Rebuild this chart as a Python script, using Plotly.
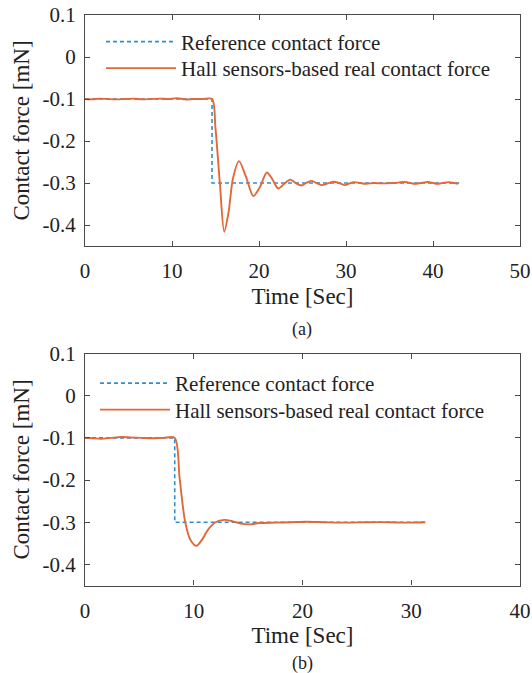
import plotly.graph_objects as go

# ---------------- data ----------------
# (a) reference contact force
ref_a_t = [0, 14.6, 14.6, 43.0]
ref_a_f = [-0.1, -0.1, -0.3, -0.3]
# (a) Hall sensors-based real contact force
hall_a_t = [0, 0.8, 1.7, 2.6, 3.6, 4.6, 5.6, 6.6, 7.6, 8.6, 9.6, 10.6, 11.5, 12.5,
            13.5, 14.6, 15.0, 15.5, 16.0, 16.5, 17.0, 17.7, 18.5, 19.35, 20.1, 20.9,
            21.5, 22.2, 22.9, 23.6, 24.2, 24.9, 25.4, 26.0, 26.6, 27.2, 27.9, 28.6,
            29.2, 29.9, 30.4, 30.9, 31.6, 32.3, 33.2, 34.2, 35.2, 36.0, 36.8, 37.4,
            37.9, 38.6, 39.4, 40.0, 40.5, 41.1, 41.8, 42.4, 42.9]
hall_a_f = [-0.100, -0.101, -0.099, -0.100, -0.101, -0.100, -0.099, -0.101, -0.100,
            -0.099, -0.100, -0.098, -0.101, -0.100, -0.100, -0.100, -0.170, -0.300,
            -0.416, -0.370, -0.290, -0.248, -0.285, -0.331, -0.310, -0.275, -0.290,
            -0.313, -0.302, -0.292, -0.300, -0.306, -0.300, -0.295, -0.300, -0.305,
            -0.301, -0.297, -0.300, -0.305, -0.301, -0.298, -0.300, -0.302, -0.300,
            -0.301, -0.300, -0.299, -0.2975, -0.300, -0.302, -0.300, -0.2975, -0.300,
            -0.302, -0.300, -0.298, -0.300, -0.302]

# (b) reference contact force
ref_b_t = [0, 8.25, 8.25, 31.3]
ref_b_f = [-0.1, -0.1, -0.3, -0.3]
# (b) Hall sensors-based real contact force
hall_b_t = [0, 0.7, 1.5, 2.4, 3.3, 4.2, 5.2, 6.2, 7.2, 8.25, 8.7, 9.2, 9.7, 10.25,
            10.8, 11.3, 12.0, 12.8, 13.6, 14.5, 15.2, 16.0, 17.5, 19.0, 20.3, 22.0,
            24.0, 26.0, 28.0, 29.5, 31.3]
hall_b_f = [-0.100, -0.101, -0.102, -0.100, -0.098, -0.099, -0.100, -0.101, -0.100,
            -0.100, -0.195, -0.298, -0.342, -0.356, -0.340, -0.318, -0.300, -0.2945,
            -0.298, -0.304, -0.305, -0.302, -0.301, -0.300, -0.299, -0.300, -0.301,
            -0.300, -0.300, -0.301, -0.300]

y_ticks = [0.1, 0, -0.1, -0.2, -0.3, -0.4]
y_tick_text = ["0.1", "0", "-0.1", "-0.2", "-0.3", "-0.4"]
x_ticks_a = [0, 10, 20, 30, 40, 50]
x_ticks_b = [0, 10, 20, 30, 40]

names = ["Reference contact force", "Hall sensors-based real contact force"]
captions = ["(a)", "(b)"]

# ---------------- styling ----------------
BLUE = "#2f8fd0"
ORANGE = "#e2683a"
AXC = "#4a4a4a"
TXT = "#222222"
FONT = "Liberation Serif"
W, H = 532, 673

fig = go.Figure()

fig.add_trace(go.Scatter(x=ref_a_t, y=ref_a_f, mode="lines", name=names[0],
                         line=dict(color=BLUE, width=1.6, dash="4px,3px"),
                         xaxis="x", yaxis="y", legend="legend", showlegend=True))
fig.add_trace(go.Scatter(x=hall_a_t, y=hall_a_f, mode="lines", name=names[1],
                         line=dict(color=ORANGE, width=1.9, shape="spline", smoothing=0.8),
                         xaxis="x", yaxis="y", legend="legend2", showlegend=True))
fig.add_trace(go.Scatter(x=ref_b_t, y=ref_b_f, mode="lines", name=names[0],
                         line=dict(color=BLUE, width=1.6, dash="4px,3px"),
                         xaxis="x2", yaxis="y2", legend="legend3", showlegend=True))
fig.add_trace(go.Scatter(x=hall_b_t, y=hall_b_f, mode="lines", name=names[1],
                         line=dict(color=ORANGE, width=1.9, shape="spline", smoothing=0.8),
                         xaxis="x2", yaxis="y2", legend="legend4", showlegend=True))

def xax(dom_y_anchor, ticks, rng):
    return dict(domain=[85 / W, 520 / W], range=rng, tickvals=ticks,
                ticks="inside", ticklen=5, tickcolor=AXC, tickwidth=1,
                showline=True, linecolor=AXC, linewidth=1.2, mirror="ticks",
                showgrid=False, zeroline=False, anchor=dom_y_anchor, automargin=False,
                tickfont=dict(family=FONT, size=21, color=TXT),
                ticklabelstandoff=6,
                title=dict(text="Time [Sec]", font=dict(family=FONT, size=23, color=TXT),
                           standoff=5))

def yax(top_px, bot_px, anchor):
    return dict(domain=[1 - bot_px / H, 1 - top_px / H], range=[-0.45, 0.1],
                tickvals=y_ticks, ticktext=y_tick_text,
                ticks="inside", ticklen=5, tickcolor=AXC, tickwidth=1,
                showline=True, linecolor=AXC, linewidth=1.2, mirror="ticks",
                showgrid=False, zeroline=False, anchor=anchor, automargin=False,
                tickfont=dict(family=FONT, size=21, color=TXT),
                ticklabelstandoff=4,
                title=dict(text="Contact force [mN]", font=dict(family=FONT, size=23, color=TXT),
                           standoff=6))

leg_common = dict(font=dict(family=FONT, size=21, color=TXT),
                  bgcolor="rgba(0,0,0,0)", borderwidth=0, xanchor="left", yanchor="middle",
                  itemwidth=70, tracegroupgap=0, visible=True)

fig.update_layout(
    width=W, height=H,
    showlegend=True,
    margin=dict(l=0, r=0, t=0, b=0),
    paper_bgcolor="white", plot_bgcolor="white",
    xaxis=xax("y", x_ticks_a, [0, 50]),
    yaxis=yax(15, 246, "x"),
    xaxis2=xax("y2", x_ticks_b, [0, 40]),
    yaxis2=yax(353.5, 585.5, "x2"),
    legend=dict(x=101 / W, y=1 - 42 / H, **leg_common),
    legend2=dict(x=101 / W, y=1 - 68.5 / H, **leg_common),
    legend3=dict(x=95 / W, y=1 - 383.5 / H, **leg_common),
    legend4=dict(x=95 / W, y=1 - 410 / H, **leg_common),
    annotations=[
        dict(text=captions[0], x=302 / W, y=1 - 329 / H, xref="paper", yref="paper",
             xanchor="center", yanchor="middle",
             showarrow=False, font=dict(family=FONT, size=18, color=TXT)),
        dict(text=captions[1], x=302 / W, y=1 - 663 / H, xref="paper", yref="paper",
             xanchor="center", yanchor="middle",
             showarrow=False, font=dict(family=FONT, size=18, color=TXT)),
    ],
)

fig.write_html("out.html", config={"displayModeBar": False},
               post_script="document.body.style.margin='0px';")
